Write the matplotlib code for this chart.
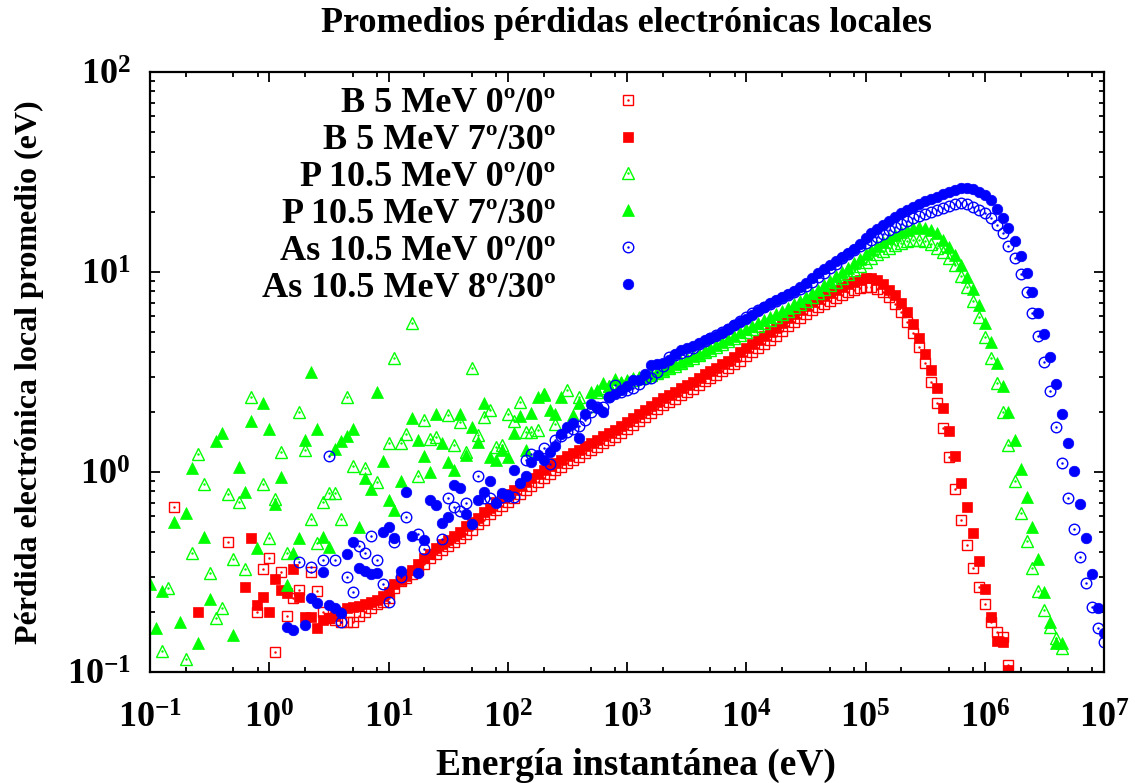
import matplotlib
matplotlib.use('Agg')
import matplotlib.pyplot as plt
from matplotlib.ticker import LogLocator, NullFormatter

plt.rcParams['font.family'] = 'Liberation Serif'
plt.rcParams['font.weight'] = 'bold'
plt.rcParams['axes.labelweight'] = 'bold'
plt.rcParams['mathtext.fontset'] = 'custom'
plt.rcParams['mathtext.rm'] = 'Liberation Serif:bold'
plt.rcParams['mathtext.bf'] = 'Liberation Serif:bold'

N = None

# energy bins (eV), 20 per decade
energy = [
    1.00e-1, 1.12e-1, 1.26e-1, 1.41e-1, 1.58e-1, 1.78e-1, 2.00e-1, 2.24e-1, 2.51e-1, 2.82e-1,
    3.16e-1, 3.55e-1, 3.98e-1, 4.47e-1, 5.01e-1, 5.62e-1, 6.31e-1, 7.08e-1, 7.94e-1, 8.91e-1,
    1.00e0, 1.12e0, 1.26e0, 1.41e0, 1.58e0, 1.78e0, 2.00e0, 2.24e0, 2.51e0, 2.82e0,
    3.16e0, 3.55e0, 3.98e0, 4.47e0, 5.01e0, 5.62e0, 6.31e0, 7.08e0, 7.94e0, 8.91e0,
    1.00e1, 1.12e1, 1.26e1, 1.41e1, 1.58e1, 1.78e1, 2.00e1, 2.24e1, 2.51e1, 2.82e1,
    3.16e1, 3.55e1, 3.98e1, 4.47e1, 5.01e1, 5.62e1, 6.31e1, 7.08e1, 7.94e1, 8.91e1,
    1.00e2, 1.12e2, 1.26e2, 1.41e2, 1.58e2, 1.78e2, 2.00e2, 2.24e2, 2.51e2, 2.82e2,
    3.16e2, 3.55e2, 3.98e2, 4.47e2, 5.01e2, 5.62e2, 6.31e2, 7.08e2, 7.94e2, 8.91e2,
    1.00e3, 1.12e3, 1.26e3, 1.41e3, 1.58e3, 1.78e3, 2.00e3, 2.24e3, 2.51e3, 2.82e3,
    3.16e3, 3.55e3, 3.98e3, 4.47e3, 5.01e3, 5.62e3, 6.31e3, 7.08e3, 7.94e3, 8.91e3,
    1.00e4, 1.12e4, 1.26e4, 1.41e4, 1.58e4, 1.78e4, 2.00e4, 2.24e4, 2.51e4, 2.82e4,
    3.16e4, 3.55e4, 3.98e4, 4.47e4, 5.01e4, 5.62e4, 6.31e4, 7.08e4, 7.94e4, 8.91e4,
    1.00e5, 1.12e5, 1.26e5, 1.41e5, 1.58e5, 1.78e5, 2.00e5, 2.24e5, 2.51e5, 2.82e5,
    3.16e5, 3.55e5, 3.98e5, 4.47e5, 5.01e5, 5.62e5, 6.31e5, 7.08e5, 7.94e5, 8.91e5,
    1.00e6, 1.12e6, 1.26e6, 1.41e6, 1.58e6, 1.78e6, 2.00e6, 2.24e6, 2.51e6, 2.82e6,
    3.16e6, 3.55e6, 3.98e6, 4.47e6, 5.01e6, 5.62e6, 6.31e6, 7.08e6, 7.94e6, 8.91e6,
    1.00e7,
]

# average local electronic loss (eV) per bin, one row per decade
b_00 = [
    N, N, N, N, 0.668, N, N, N, N, N, N, N, N, 0.447, N, N, N, N, 0.200, 0.327,
    0.372, 0.126, 0.316, 0.191, 0.234, 0.257, N, 0.316, 0.254, 0.200, 0.186, 0.182, 0.178, 0.178, 0.178, 0.191, 0.200, 0.209, 0.219, 0.224,
    0.234, 0.263, 0.285, 0.295, 0.309, 0.324, 0.347, 0.372, 0.389, 0.407, 0.427, 0.447, 0.468, 0.490, 0.513, 0.550, 0.575, 0.617, 0.646, 0.676,
    0.708, 0.741, 0.776, 0.813, 0.851, 0.891, 0.933, 0.977, 1.02, 1.06, 1.11, 1.15, 1.19, 1.24, 1.29, 1.33, 1.40, 1.45, 1.50, 1.57,
    1.64, 1.72, 1.80, 1.88, 1.97, 2.07, 2.16, 2.24, 2.32, 2.43, 2.51, 2.60, 2.72, 2.85, 2.95, 3.05, 3.20, 3.31, 3.47, 3.59,
    3.80, 3.98, 4.17, 4.37, 4.57, 4.79, 5.07, 5.37, 5.62, 5.89, 6.17, 6.46, 6.68, 6.92, 7.16, 7.41, 7.67, 7.94, 8.13, 8.32,
    8.41, 8.41, 8.22, 7.94, 7.50, 6.92, 6.31, 5.62, 4.96, 4.22, 3.51, 2.82, 2.21, 1.66, 1.19, 0.822, 0.575, 0.432, 0.331, 0.266,
    0.219, 0.178, 0.158, 0.150, 0.108,
]
b_730 = [
    N, N, N, N, N, N, N, N, 0.200, N, N, N, N, N, N, N, 0.266, 0.468, 0.216, 0.237,
    0.200, 0.292, 0.257, 0.248, 0.327, 0.237, 0.188, 0.188, 0.166, 0.182, 0.186, 0.191, 0.200, 0.209, 0.211, 0.214, 0.219, 0.224, 0.229, 0.240,
    0.251, 0.275, 0.288, 0.302, 0.324, 0.347, 0.372, 0.389, 0.417, 0.437, 0.457, 0.479, 0.501, 0.537, 0.562, 0.589, 0.631, 0.661, 0.708, 0.741,
    0.776, 0.813, 0.851, 0.891, 0.933, 0.977, 1.02, 1.07, 1.11, 1.15, 1.20, 1.24, 1.29, 1.35, 1.40, 1.45, 1.51, 1.57, 1.62, 1.70,
    1.78, 1.86, 1.95, 2.04, 2.14, 2.24, 2.34, 2.43, 2.51, 2.63, 2.72, 2.82, 2.95, 3.09, 3.20, 3.31, 3.47, 3.59, 3.76, 3.98,
    4.17, 4.37, 4.57, 4.79, 5.01, 5.25, 5.56, 5.89, 6.17, 6.46, 6.76, 7.08, 7.33, 7.59, 7.85, 8.13, 8.41, 8.71, 8.91, 9.12,
    9.33, 9.33, 9.12, 8.71, 8.13, 7.67, 7.00, 6.31, 5.50, 4.68, 3.89, 3.24, 2.63, 2.09, 1.60, 1.20, 0.881, 0.668, 0.495, 0.359,
    0.260, 0.188, 0.143, 0.141, 0.102,
]
p_00 = [
    N, N, 0.127, 0.263, N, N, 0.116, 0.394, 1.23, 0.871, 0.313, 0.186, 0.209, 0.776, 0.367, 0.708, 0.327, 2.37, N, 0.871,
    0.468, 0.733, 1.26, 0.394, N, 2.00, 1.29, 0.582, 0.442, 0.708, 0.785, 0.785, 0.582, 2.37, 1.07, N, 1.05, N, 0.891, N,
    1.40, 3.72, 1.40, 1.55, 5.56, 0.955, 1.82, 1.46, 1.50, N, 1.93, 1.36, 1.78, 1.26, 3.31, 1.53, 1.88, 2.04, 1.33, 1.36,
    1.95, 1.80, 2.24, 1.58, 1.58, 1.62, 2.45, N, 1.74, N, 2.57, N, 2.37, N, 2.14, 2.51, 2.63, 2.69, 2.75, 2.79,
    2.82, 2.88, 2.95, 2.99, 3.05, 3.13, 3.20, 3.31, 3.39, 3.51, 3.63, 3.72, 3.85, 3.98, 4.07, 4.22, 4.37, 4.52, 4.68, 4.84,
    5.01, 5.19, 5.37, 5.56, 5.75, 5.96, 6.17, 6.38, 6.68, 6.92, 7.16, 7.50, 7.85, 8.22, 8.61, 8.91, 9.33, 9.77, 10.2, 10.7,
    11.2, 11.7, 12.3, 12.7, 13.2, 13.6, 14.0, 14.3, 14.5, 14.5, 14.3, 13.8, 13.2, 12.6, 11.7, 10.8, 9.55, 8.41, 7.16, 5.96,
    4.73, 3.72, 2.79, 2.00, 1.36, 0.902, 0.624, 0.452, 0.331, 0.254, 0.204, 0.168, 0.148, 0.132,
]
p_730 = [
    0.275, 0.166, 0.254, N, 0.562, 0.178, 0.624, 1.05, 0.140, 0.473, 0.232, 1.43, 1.57, N, 0.153, 1.06, 0.794, 1.80, 0.417, 2.21,
    1.64, 0.692, 0.944, 0.272, 0.394, 0.468, 1.45, 3.16, 1.64, 0.473, 0.422, 1.30, 1.43, 1.51, 1.64, 0.531, 0.933, 0.822, 2.51, 1.14,
    0.724, 0.646, 0.902, N, 1.86, 1.45, 1.20, 1.00, 1.95, 1.40, 1.12, 1.02, 1.95, 1.22, 1.68, 1.41, 2.21, 1.19, 1.15, 1.29,
    1.19, 1.57, 1.91, 1.29, 1.97, 2.37, 2.43, 2.04, 1.95, 2.37, N, 1.93, 2.21, N, 2.51, 2.57, 2.79, 2.69, 2.92, 2.82,
    2.88, 2.95, 2.99, 3.02, 3.09, 3.16, 3.24, 3.35, 3.47, 3.55, 3.67, 3.80, 3.89, 4.03, 4.17, 4.32, 4.47, 4.62, 4.79, 5.01,
    5.19, 5.37, 5.56, 5.75, 5.96, 6.17, 6.38, 6.61, 6.92, 7.16, 7.50, 7.85, 8.13, 8.61, 9.02, 9.55, 10.0, 10.5, 11.1, 11.6,
    12.3, 12.9, 13.5, 14.1, 14.8, 15.3, 15.8, 16.2, 16.6, 16.8, 16.6, 16.2, 15.7, 14.5, 13.3, 12.2, 10.8, 9.44, 8.22, 6.84,
    5.56, 4.47, 3.51, 2.69, 2.00, 1.45, 1.04, 0.750, 0.531, 0.367, 0.251, 0.178, 0.140, 0.140,
]
as_00 = [
    N, N, N, N, N, N, N, N, N, N, N, N, N, N, N, N, N, N, N, N,
    N, N, N, N, N, 0.355, N, 0.335, N, 0.363, 1.20, 0.363, 0.178, 0.299, 0.251, 0.427, 0.394, 0.479, 0.363, 0.275,
    0.224, 0.447, 0.299, 0.596, N, 0.490, 0.412, N, N, 0.462, 0.741, 0.668, 0.638, 0.700, N, 0.955, 0.741, 0.741, N, 0.750,
    0.759, 0.750, N, 1.15, 1.23, N, 1.32, 1.10, 1.45, 1.51, 1.58, 1.64, 1.70, 1.82, 2.00, 2.11, 2.11, 2.37, 2.72, 2.51,
    2.57, 2.63, 2.75, 2.92, 2.95, 3.16, 3.39, 3.76, 3.85, 3.94, 4.03, 4.17, 4.37, 4.52, 4.68, 4.84, 5.01, 5.19, 5.43, 5.69,
    5.96, 6.24, 6.46, 6.68, 6.92, 7.16, 7.41, 7.67, 7.94, 8.22, 8.51, 8.91, 9.44, 9.89, 10.5, 11.0, 11.7, 12.3, 12.9, 13.5,
    14.0, 14.5, 15.0, 15.5, 16.2, 16.8, 17.4, 18.0, 18.6, 19.1, 19.5, 20.0, 20.4, 20.9, 21.4, 21.9, 22.1, 21.9, 21.1, 20.4,
    19.7, 18.6, 17.2, 15.7, 13.5, 11.7, 9.77, 7.94, 6.24, 4.79, 3.55, 2.54, 1.68, 1.11, 0.741, 0.519, 0.376, 0.279, 0.211, 0.166,
    0.141,
]
as_830 = [
    N, N, N, N, N, N, N, N, N, N, N, N, N, N, N, N, N, N, N, N,
    N, N, N, 0.168, 0.162, N, 0.172, 0.234, 0.221, 0.316, 0.216, 0.209, 0.197, 0.389, 0.447, 0.331, 0.320, 0.309, 0.313, 0.501,
    0.531, 0.468, 0.320, 0.794, 0.479, 0.313, 0.457, 0.724, 0.684, 0.556, 0.596, 0.861, 0.832, 0.617, 0.550, 0.724, 0.794, 0.902, 0.700, 0.785,
    0.767, 1.02, 0.881, 0.955, 1.12, 1.22, 1.15, 1.26, 1.35, 1.55, 1.68, 1.76, 1.48, 1.95, 2.19, 2.09, 2.00, 2.37, 2.45, 2.57,
    2.69, 2.88, 2.88, 3.09, 3.43, 3.47, 3.51, 3.63, 3.89, 4.07, 4.17, 4.27, 4.42, 4.57, 4.68, 4.79, 4.96, 5.19, 5.43, 5.62,
    5.82, 6.10, 6.38, 6.68, 7.00, 7.24, 7.50, 7.76, 8.04, 8.41, 8.81, 9.33, 9.89, 10.4, 10.8, 11.4, 11.9, 12.4, 13.0, 13.8,
    14.8, 15.7, 16.4, 17.2, 18.0, 18.8, 19.7, 20.4, 21.1, 21.9, 22.6, 23.2, 23.7, 24.5, 25.1, 25.7, 26.3, 26.3, 26.0, 25.1,
    24.3, 22.9, 20.7, 18.6, 16.6, 14.3, 12.0, 9.89, 7.94, 6.24, 4.90, 3.76, 2.75, 1.95, 1.40, 1.01, 0.692, 0.468, 0.309, 0.209,
    0.157,
]

labels = ['B 5 MeV 0º/0º', 'B 5 MeV 7º/30º', 'P 10.5 MeV 0º/0º',
          'P 10.5 MeV 7º/30º', 'As 10.5 MeV 0º/0º', 'As 10.5 MeV 8º/30º']

# (values, color, marker, size, open?)
styles = [
    (b_00, '#ff0000', 's', 7.2, True),
    (b_730, '#ff0000', 's', 7.6, False),
    (p_00, '#00ff00', '^', 8.0, True),
    (p_730, '#00ff00', '^', 8.0, False),
    (as_00, '#0000ff', 'o', 7.6, True),
    (as_830, '#0000ff', 'o', 7.6, False),
]

fig = plt.figure(figsize=(11.35, 7.83), dpi=100)
ax = fig.add_axes([0.1322, 0.1418, 0.8405, 0.7663])

handles = []
for (vals, col, mk, ms, hollow), lab in zip(styles, labels):
    xs = [e for e, v in zip(energy, vals) if v is not None]
    ys = [v for v in vals if v is not None]
    if hollow:
        h1, = ax.plot(xs, ys, ls='none', marker=mk, ms=ms, mfc='none', mec=col, mew=1.0)
        h2, = ax.plot(xs, ys, ls='none', marker='.', ms=1.5, color=col)
        handles.append((h1, h2))
    else:
        h1, = ax.plot(xs, ys, ls='none', marker=mk, ms=ms, mfc=col, mec=col, mew=0.5)
        handles.append(h1)

ax.set_xscale('log')
ax.set_yscale('log')
ax.set_xlim(1e-1, 1e7)
ax.set_ylim(1e-1, 1e2)

ax.xaxis.set_major_locator(LogLocator(base=10, numticks=20))
ax.xaxis.set_minor_locator(LogLocator(base=10, subs=(2, 5, 8), numticks=20))
ax.yaxis.set_minor_locator(LogLocator(base=10, subs=range(2, 10), numticks=20))
ax.xaxis.set_minor_formatter(NullFormatter())
ax.yaxis.set_minor_formatter(NullFormatter())

ax.tick_params(which='both', direction='in', top=True, right=True, width=1.3, labelsize=26)
ax.tick_params(which='major', length=7.5)
ax.tick_params(which='minor', length=3.8)
ax.tick_params(axis='x', which='major', pad=22)
ax.tick_params(axis='y', which='major', pad=14)
for sp in ax.spines.values():
    sp.set_linewidth(1.6)

ax.set_xlabel('Energía instantánea (eV)', fontsize=27, fontweight='bold', va='center')
ax.xaxis.set_label_coords(0.509, -0.155)
ax.set_ylabel('Pérdida electrónica local promedio (eV)', fontsize=23, fontweight='bold', va='center')
ax.yaxis.set_label_coords(-0.126, 0.5)

fig.text(0.552, 0.970, 'Promedios pérdidas electrónicas locales',
         ha='center', va='center', fontsize=26, fontweight='bold')

ax.legend(handles, labels, loc='upper right', bbox_to_anchor=(664 / 1135, 1 - 87 / 783),
          bbox_transform=fig.transFigure, frameon=False, markerfirst=False,
          handlelength=2.0, handletextpad=1.0, labelspacing=0.1, borderpad=0,
          borderaxespad=0, fontsize=26, numpoints=1)

fig.savefig('out.png', dpi=100)
